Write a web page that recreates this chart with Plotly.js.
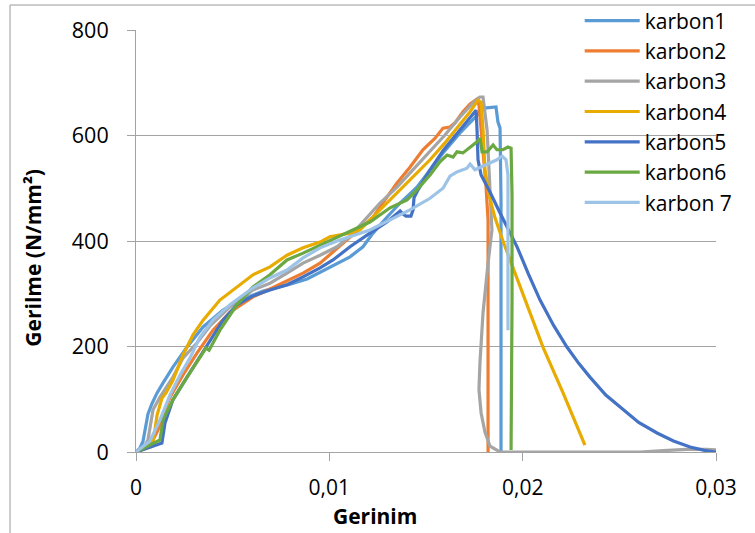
<!DOCTYPE html>
<html>
<head>
<meta charset="utf-8">
<script src="https://cdn.plot.ly/plotly-3.0.1.min.js"></script>
<style>html,body{margin:0;padding:0;background:#fff;}#chart{width:755px;height:533px;}</style>
</head>
<body>
<div id="chart"></div>
<script>
// Series names
const seriesNames = ["karbon1", "karbon2", "karbon3", "karbon4", "karbon5", "karbon6", "karbon 7"];

// karbon1
const k1x = [0, 0.00021, 0.00036, 0.00047, 0.00062, 0.00083, 0.00109, 0.00140, 0.00191, 0.00264, 0.00347, 0.00450, 0.00538, 0.00657, 0.00797, 0.00885, 0.01003, 0.01107, 0.01174, 0.01226, 0.01298, 0.01366, 0.01453, 0.01521, 0.01588, 0.01676, 0.01779, 0.01800, 0.01862, 0.01872, 0.01883, 0.01888, 0.01888];
const k1y = [0, 8, 20, 45, 72, 92, 112, 131, 161, 199, 237, 269, 288, 305, 318, 328, 351, 370, 389, 415, 445, 472, 502, 535, 567, 605, 643, 652, 654, 626, 614, 478, 0];

// karbon2
const k2x = [0, 0.00072, 0.00114, 0.00140, 0.00176, 0.00243, 0.00316, 0.00398, 0.00486, 0.00605, 0.00693, 0.00781, 0.00864, 0.00952, 0.01029, 0.01107, 0.01159, 0.01226, 0.01288, 0.01350, 0.01417, 0.01484, 0.01547, 0.01588, 0.01624, 0.01650, 0.01691, 0.01728, 0.01764, 0.01774, 0.01790, 0.01810, 0.01821, 0.01821];
const k2y = [0, 11, 42, 70, 104, 146, 188, 231, 265, 294, 309, 324, 339, 358, 383, 408, 425, 445, 478, 510, 540, 573, 595, 614, 616, 624, 645, 660, 669, 658, 591, 506, 440, 0];

// karbon3
const k3x = [0, 0.00047, 0.00062, 0.00072, 0.00088, 0.00124, 0.00191, 0.00243, 0.00316, 0.00383, 0.00486, 0.00605, 0.00693, 0.00781, 0.00864, 0.00952, 0.01040, 0.01107, 0.01174, 0.01262, 0.01350, 0.01433, 0.01521, 0.01598, 0.01676, 0.01743, 0.01779, 0.01795, 0.01816, 0.01831, 0.01841, 0.01821, 0.01795, 0.01779, 0.01774, 0.01785, 0.01805, 0.01831, 0.01883, 0.02200, 0.02607, 0.02750, 0.02850, 0.02950, 0.03000];
const k3y = [0, 13, 23, 47, 80, 104, 142, 178, 207, 239, 275, 307, 320, 339, 358, 373, 389, 409, 436, 472, 502, 535, 569, 601, 635, 662, 673, 673, 610, 483, 421, 358, 264, 169, 118, 74, 38, 11, 0, 0, 0, 3, 5, 5, 4];

// karbon4
const k4x = [0, 0.00083, 0.00098, 0.00109, 0.00134, 0.00155, 0.00191, 0.00243, 0.00295, 0.00347, 0.00434, 0.00522, 0.00605, 0.00693, 0.00781, 0.00864, 0.00952, 0.01003, 0.01107, 0.01159, 0.01262, 0.01350, 0.01433, 0.01521, 0.01598, 0.01676, 0.01728, 0.01769, 0.01785, 0.01795, 0.01805, 0.01826, 0.01857, 0.01898, 0.02002, 0.02105, 0.02209, 0.02322];
const k4y = [0, 11, 42, 70, 102, 112, 136, 184, 222, 250, 288, 313, 336, 351, 373, 387, 398, 408, 415, 421, 459, 491, 521, 554, 586, 620, 645, 667, 663, 610, 535, 487, 444, 400, 301, 199, 112, 13];

// karbon5
const k5x = [0, 0.00072, 0.00134, 0.00150, 0.00191, 0.00264, 0.00331, 0.00383, 0.00450, 0.00522, 0.00605, 0.00693, 0.00781, 0.00864, 0.00952, 0.01019, 0.01107, 0.01210, 0.01298, 0.01366, 0.01381, 0.01397, 0.01422, 0.01433, 0.01438, 0.01459, 0.01521, 0.01588, 0.01676, 0.01728, 0.01759, 0.01764, 0.01769, 0.01785, 0.01831, 0.01883, 0.01930, 0.01971, 0.02030, 0.02090, 0.02160, 0.02229, 0.02290, 0.02348, 0.02430, 0.02519, 0.02600, 0.02695, 0.02780, 0.02866, 0.02940, 0.03000];
const k5y = [0, 9, 17, 55, 99, 142, 180, 212, 250, 279, 296, 307, 317, 332, 349, 364, 389, 415, 436, 457, 451, 447, 447, 459, 482, 497, 535, 571, 610, 635, 648, 610, 554, 525, 493, 453, 420, 389, 337, 288, 240, 199, 168, 142, 108, 80, 56, 36, 21, 9.5, 3, 0];

// karbon6
const k6x = [0, 0.00124, 0.00140, 0.00191, 0.00264, 0.00362, 0.00378, 0.00434, 0.00522, 0.00605, 0.00693, 0.00781, 0.00864, 0.00952, 0.01040, 0.01107, 0.01210, 0.01314, 0.01402, 0.01453, 0.01521, 0.01572, 0.01609, 0.01640, 0.01660, 0.01691, 0.01728, 0.01764, 0.01779, 0.01790, 0.01816, 0.01847, 0.01867, 0.01898, 0.01924, 0.01940, 0.01945, 0.01945, 0.01940];
const k6y = [0, 23, 61, 99, 142, 197, 193, 231, 279, 313, 336, 364, 377, 392, 406, 417, 436, 463, 478, 497, 525, 550, 563, 559, 569, 567, 578, 588, 595, 569, 569, 582, 573, 573, 578, 576, 487, 288, 4];

// karbon 7
const k7x = [0, 0.00072, 0.00124, 0.00176, 0.00228, 0.00279, 0.00331, 0.00398, 0.00486, 0.00605, 0.00693, 0.00781, 0.00864, 0.00952, 0.01040, 0.01107, 0.01210, 0.01314, 0.01417, 0.01521, 0.01588, 0.01624, 0.01660, 0.01712, 0.01728, 0.01753, 0.01795, 0.01867, 0.01893, 0.01914, 0.01924, 0.01924];
const k7y = [0, 21, 61, 108, 146, 178, 218, 250, 279, 311, 330, 345, 368, 387, 400, 408, 421, 440, 459, 481, 500, 523, 531, 538, 546, 535, 542, 554, 561, 554, 525, 231];

const xTickVals = [0, 0.01, 0.02, 0.03];
const yTickVals = [0, 200, 400, 600, 800];
const xTitle = "Gerinim";
const yTitle = "Gerilme (N/mm²)";

const colors = ["#5B9BD5", "#ED7D31", "#A5A5A5", "#E8AB00", "#4472C4", "#6AA842", "#9DC3E6"];
const xs = [k1x, k2x, k3x, k4x, k5x, k6x, k7x];
const ys = [k1y, k2y, k3y, k4y, k5y, k6y, k7y];

const traces = seriesNames.map((name, i) => ({
  type: "scatter",
  mode: "lines",
  name: name,
  x: xs[i],
  y: ys[i],
  line: { color: colors[i], width: 3.2 },
  hoverinfo: "skip"
}));

const font = "'Open Sans', 'Noto Sans', sans-serif";
const gray = "#a3a3a3";

const layout = {
  width: 755,
  height: 533,
  margin: { l: 136, r: 39, t: 30, b: 81, pad: 0, autoexpand: false },
  paper_bgcolor: "#ffffff",
  plot_bgcolor: "#ffffff",
  separators: ", ",
  font: { family: font, color: "#000000", size: 20 },
  showlegend: true,
  legend: {
    x: 0.765, y: 1.07, xanchor: "left", yanchor: "top",
    bgcolor: "rgba(0,0,0,0)",
    font: { family: font, size: 21, color: "#000000" },
    itemwidth: 55,
    tracegroupgap: 0
  },
  xaxis: {
    range: [0, 0.03],
    tickvals: xTickVals,
    ticktext: xTickVals.map(v => v === 0 ? "0" : String(v).replace(".", ",")),
    showgrid: false,
    zeroline: false,
    showline: true,
    linecolor: gray,
    linewidth: 1,
    ticks: "outside",
    ticklen: 8,
    tickcolor: gray,
    tickwidth: 1,
    tickfont: { family: font, size: 21, color: "#000000" },
    ticklabelstandoff: 9,
    fixedrange: true
  },
  yaxis: {
    range: [0, 800],
    tickvals: yTickVals,
    showgrid: true,
    gridcolor: gray,
    gridwidth: 1,
    zeroline: false,
    showline: true,
    linecolor: gray,
    linewidth: 1,
    ticks: "outside",
    ticklen: 8,
    tickcolor: gray,
    tickwidth: 1,
    tickfont: { family: font, size: 21.5, color: "#000000" },
    ticklabelstandoff: 14,
    fixedrange: true
  },
  annotations: [
    {
      text: "<b>" + xTitle + "</b>",
      xref: "paper", yref: "paper",
      x: 0.412, y: -0.152,
      xanchor: "center", yanchor: "middle",
      showarrow: false,
      font: { family: font, size: 21, color: "#000000" }
    },
    {
      text: "<b>" + yTitle + "</b>",
      xref: "paper", yref: "paper",
      x: -0.178, y: 0.46,
      xanchor: "center", yanchor: "middle",
      textangle: -90,
      showarrow: false,
      font: { family: font, size: 21, color: "#000000" }
    }
  ],
  shapes: [
    {
      type: "rect", xref: "paper", yref: "paper",
      x0: -0.2172, x1: 1.08, y0: -0.21, y1: 1.0592,
      line: { color: "#9a9a9a", width: 1 },
      fillcolor: "rgba(0,0,0,0)",
      layer: "below"
    }
  ]
};

Plotly.newPlot("chart", traces, layout, { staticPlot: true, displayModeBar: false });
</script>
</body>
</html>
